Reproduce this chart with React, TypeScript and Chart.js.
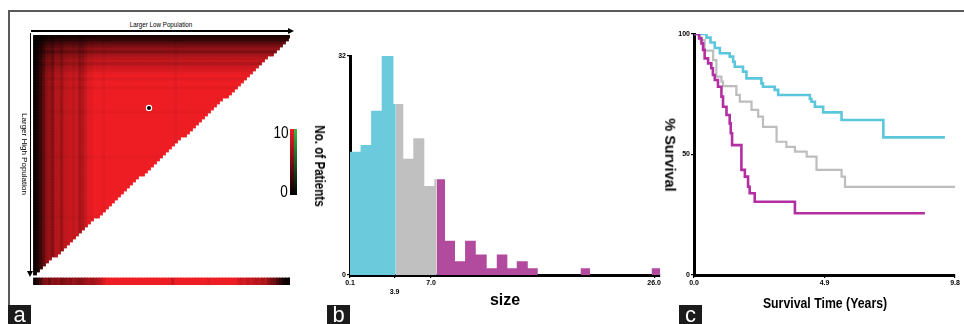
import React, { useEffect, useRef } from 'react';
import { Chart, registerables } from 'chart.js';

Chart.register(...registerables);

const FONT = "'Liberation Sans', Arial, Helvetica, sans-serif";

// ---------------- Panel a : triangular heat map ----------------
// shade (0 = black, 10 = full red) per column of the low cut-point
const heatColShade = [
  0.5, 1.2, 2.5, 4.0, 6.0, 6.5, 5.5, 7.5, 7.5, 6.5,
  8.0, 8.2, 8.4, 8.0, 8.5, 7.0, 7.5, 8.5, 9.5, 9.5,
  10, 10, 10, 9.6, 10, 10, 10, 10, 10, 10,
  10, 10, 10, 10, 10, 10, 10, 10, 10, 10,
  10, 10, 10, 10, 10, 10, 10, 9.6, 10, 10,
  10, 10, 10, 10, 10, 10, 10, 10, 10, 10,
  10, 10, 10, 10, 10, 10, 10, 10, 10, 10,
  10, 10, 10, 10, 10, 10, 10, 10, 10, 10,
  10, 10, 10, 10, 10, 10,
];
// shade per row of the high cut-point
const heatRowShade = [
  1.2, 2.2, 3.8, 5.0, 6.2, 5.2, 7.0, 7.6, 8.2, 7.4,
  8.6, 9.0, 9.6, 10, 9.4, 10, 10, 9.5, 10, 10,
  10, 10, 10, 10, 10, 9.7, 10, 10, 10, 10,
  10, 10, 10, 10, 10, 10, 10, 10, 10, 10,
  9.7, 10, 10, 10, 10, 10, 10, 10, 10, 10,
  10, 10, 10, 10, 10, 10, 10, 10, 10, 10,
  9.7, 10, 10, 10, 10, 10, 10, 10, 10, 10,
  10, 10, 10, 10, 10, 10, 10, 10, 10, 10,
];
// shade of the single strip under the map
const heatStripShade = [
  0.5, 1.5, 3.0,
  5.0, 5.5, 4.5, 6.0, 5.5, 6.0, 5.0, 5.5, 6.0, 5.5, 6.5, 6.0, 5.5, 6.0,
  6.5, 7.0, 6.5, 7.0, 7.5, 8.0, 9.0,
  10, 10, 10, 10, 10, 10, 10, 10, 10, 10, 10,
  10, 10, 10, 10, 10, 10, 10, 10, 10, 10, 10,
  8.5, 10, 10, 10, 10, 10, 10, 10, 10, 10, 10,
  10, 9.5, 10, 10, 10, 10, 10, 10, 10, 10, 10,
  9.0, 8.5, 9.0, 8.0, 8.5, 8.0, 7.5, 8.0, 7.0, 7.5,
  6.0, 5.0, 4.5, 3.0, 2.0,
  1.0, 0.5, 0.5,
];
const heatMarker = [{ x: 38, y: 24.3 }];
const heatColorbarLabels = ['10', '0'];
const heatTopTitle = 'Larger Low Population';
const heatLeftTitle = 'Larger High Population';
const HEAT_GAP = 1;
const HEAT_STRIP = 7 / 3;

// ---------------- Panel b : histogram ----------------
const histBinStart = [0.1, 1.0, 1.9, 2.8, 3.8, 4.64, 5.49, 6.43, 7.28, 8.19, 9.04, 9.9, 10.81, 11.74, 12.6, 13.5, 14.3, 15.24, 19.75, 25.8];
const histBinEnd = [1.0, 1.9, 2.8, 3.8, 4.64, 5.49, 6.43, 7.28, 8.19, 9.04, 9.9, 10.81, 11.74, 12.6, 13.5, 14.3, 15.24, 16.09, 20.54, 26.5];
const histCounts = [18, 19, 24, 32, 25, 17, 20, 13, 14, 5, 2, 5, 3, 1, 3, 1, 2, 1, 1, 1];
const histColourBreaks = [0.1, 4.0, 7.49, 26.5];
const histColours = ['#6bcadc', '#c0c0c0', '#b24a9e'];
const histXTicks = [0.1, 3.9, 7.0, 26.0];
const histXTickLabels = ['0.1', '3.9', '7.0', '26.0'];
const histYTicks = [0, 32];
const histXTitle = 'size';
const histYTitle = 'No. of Patients';

// ---------------- Panel c : survival ----------------
const survCyanTime = [0, 0.47, 0.62, 0.78, 0.97, 1.34, 1.47, 1.53, 1.84, 1.97, 2.53, 2.59, 3.03, 3.16, 4.35, 4.41, 4.54, 4.85, 5.54, 7.11, 9.42];
const survCyanPct = [100, 98.5, 96.5, 94.2, 92.0, 90.6, 88.5, 86.4, 84.4, 81.6, 79.5, 78.1, 76.8, 74.7, 73.0, 71.9, 69.8, 67.5, 64.3, 57.1, 57.1];
const survGrayTime = [0, 0.24, 0.40, 0.72, 0.84, 1.03, 1.09, 1.59, 1.72, 2.16, 2.41, 2.59, 3.10, 3.47, 3.79, 4.23, 4.60, 5.54, 5.67, 9.8];
const survGrayPct = [100, 97.5, 93.1, 89.2, 82.3, 80.2, 78.4, 74.7, 71.9, 68.5, 65.7, 61.5, 55.3, 53.2, 51.2, 49.1, 43.6, 40.8, 36.6, 36.6];
const survPurpleTime = [0, 0.19, 0.28, 0.34, 0.40, 0.53, 0.65, 0.71, 0.78, 0.90, 1.03, 1.09, 1.22, 1.34, 1.38, 1.43, 1.78, 1.91, 2.03, 2.09, 2.28, 3.79, 8.67];
const survPurplePct = [100, 98.2, 96.1, 93.4, 89.9, 87.8, 85.8, 83.0, 80.9, 78.1, 74.0, 69.8, 66.4, 62.9, 58.8, 53.9, 43.6, 40.8, 36.6, 33.9, 30.4, 25.6, 25.6];
const survColours = { cyan: '#5cc7dc', gray: '#bdbdbd', purple: '#b32fa1' };
const survXTicks = [0, 4.9, 9.8];
const survYTicks = [0, 50, 100];
const survXTitle = 'Survival Time (Years)';
const survYTitle = '% Survival';

function heatColour(v: number): string {
  const f = Math.max(0, Math.min(10, v)) / 10;
  return `rgb(${Math.round(238 * f)},${Math.round(29 * f)},${Math.round(36 * f)})`;
}

function makeHeatConfig(): any {
  const nCols = heatColShade.length;
  const nRows = heatRowShade.length;
  const total = nRows + HEAT_GAP + HEAT_STRIP;
  const clear = 'rgba(0,0,0,0)';
  const base = {
    type: 'bar', barPercentage: 1, categoryPercentage: 1, barThickness: 3, inflateAmount: 0.4,
    borderWidth: 0, xAxisID: 'x', yAxisID: 'y',
  };
  const rows = heatRowShade.map((rv, j) => {
    const len = Math.round((nCols * (nRows - j)) / nRows);
    return {
      ...base,
      data: heatColShade.map(() => 1),
      backgroundColor: heatColShade.map((cv, i) => (i < len ? heatColour((cv * rv) / 10) : clear)),
    };
  });
  const gap = { ...base, data: heatColShade.map(() => HEAT_GAP), backgroundColor: clear, inflateAmount: 0 };
  const strip = { ...base, data: heatColShade.map(() => HEAT_STRIP), backgroundColor: heatStripShade.map(heatColour) };
  const marker = {
    type: 'scatter', data: heatMarker, xAxisID: 'x2', yAxisID: 'y2',
    pointRadius: 2.6, pointBackgroundColor: '#000', pointBorderColor: '#fff', pointBorderWidth: 1.2,
    clip: false,
  };
  return {
    type: 'bar',
    data: { labels: heatColShade.map((_, i) => String(i)), datasets: [marker, ...rows, gap, strip] },
    options: {
      animation: false, responsive: false, maintainAspectRatio: false, events: [],
      layout: { padding: 0, autoPadding: false },
      plugins: { legend: { display: false }, tooltip: { enabled: false } },
      scales: {
        x: { type: 'category', stacked: true, display: false, offset: true },
        y: { type: 'linear', stacked: true, min: 0, max: total, reverse: true, display: false },
        x2: { type: 'linear', min: 0, max: nCols, display: false, position: 'bottom' },
        y2: { type: 'linear', min: 0, max: total, reverse: true, display: false, position: 'left' },
      },
    },
  };
}

function histSteps(lo: number, hi: number) {
  const pts: { x: number; y: number }[] = [];
  let prevEnd: number | null = null;
  let prevCount = 0;
  for (let i = 0; i < histCounts.length; i++) {
    const s = Math.max(histBinStart[i], lo);
    const e = Math.min(histBinEnd[i], hi);
    if (e <= s) continue;
    if (prevEnd !== null && s > prevEnd + 1e-9) pts.push({ x: prevEnd, y: 0 });
    pts.push({ x: s, y: histCounts[i] });
    prevEnd = e;
    prevCount = histCounts[i];
  }
  if (prevEnd !== null) pts.push({ x: prevEnd, y: prevCount });
  return pts;
}

const tickFont = { size: 7, weight: 'bold', family: FONT };

function axisCommon() {
  return {
    z: 1,
    grid: { display: true, drawOnChartArea: false, drawTicks: true, tickLength: 3, color: '#000', lineWidth: 1.2 },
    border: { display: true, color: '#000', width: 3 },
  };
}

function makeHistConfig(): any {
  const datasets = histColours.map((c, g) => ({
    data: histSteps(histColourBreaks[g], histColourBreaks[g + 1]),
    stepped: true,
    fill: 'origin',
    backgroundColor: c,
    borderColor: c,
    borderWidth: 0,
    pointRadius: 0,
  }));
  return {
    type: 'line',
    data: { datasets },
    options: {
      animation: false, responsive: false, maintainAspectRatio: false, events: [],
      layout: { padding: { top: 36, right: 8, left: 0, bottom: 0 } },
      plugins: { legend: { display: false }, tooltip: { enabled: false } },
      scales: {
        x: {
          ...axisCommon(),
          type: 'linear', min: histColourBreaks[0], max: histColourBreaks[histColourBreaks.length - 1],
          afterBuildTicks: (s: any) => { s.ticks = histXTicks.map((v) => ({ value: v })); },
          afterFit: (s: any) => { s.height = 49; },
          ticks: {
            autoSkip: false, maxRotation: 0, minRotation: 0, padding: 1, color: '#000', font: tickFont,
            callback: (_v: any, i: number) => (i === 1 ? ['', histXTickLabels[i]] : histXTickLabels[i]),
          },
          title: { display: true, text: histXTitle, color: '#000', font: { size: 16, weight: 'bold', family: FONT }, padding: { top: 0, bottom: 14 } },
        },
        y: {
          ...axisCommon(),
          type: 'linear', min: histYTicks[0], max: histYTicks[histYTicks.length - 1],
          afterBuildTicks: (s: any) => { s.ticks = histYTicks.map((v) => ({ value: v })); },
          afterFit: (s: any) => { s.width = 24; },
          ticks: { autoSkip: false, padding: 1, color: '#000', font: tickFont, callback: (v: any) => String(v) },
        },
      },
    },
  };
}

function makeSurvConfig(): any {
  const mk = (t: number[], p: number[], colour: string, w: number) => ({
    data: t.map((x, i) => ({ x, y: p[i] })),
    stepped: true, fill: false, borderColor: colour, borderWidth: w, pointRadius: 0,
  });
  return {
    type: 'line',
    data: {
      datasets: [
        mk(survPurpleTime, survPurplePct, survColours.purple, 2.6),
        mk(survCyanTime, survCyanPct, survColours.cyan, 2.6),
        mk(survGrayTime, survGrayPct, survColours.gray, 2.2),
      ],
    },
    options: {
      animation: false, responsive: false, maintainAspectRatio: false, events: [],
      layout: { padding: { top: 14, right: 9, left: 0, bottom: 0 } },
      plugins: { legend: { display: false }, tooltip: { enabled: false } },
      scales: {
        x: {
          ...axisCommon(),
          type: 'linear', min: survXTicks[0], max: survXTicks[survXTicks.length - 1],
          afterBuildTicks: (s: any) => { s.ticks = survXTicks.map((v) => ({ value: v })); },
          afterFit: (s: any) => { s.height = 49; },
          ticks: { autoSkip: false, maxRotation: 0, minRotation: 0, padding: 1, color: '#000', font: tickFont, callback: (v: any) => Number(v).toFixed(1) },
        },
        y: {
          ...axisCommon(),
          type: 'linear', min: survYTicks[0], max: survYTicks[survYTicks.length - 1],
          afterBuildTicks: (s: any) => { s.ticks = survYTicks.map((v) => ({ value: v })); },
          afterFit: (s: any) => { s.width = 30; },
          ticks: { autoSkip: false, padding: 1, color: '#000', font: tickFont, callback: (v: any) => String(v) },
        },
      },
    },
  };
}

function RotText(props: { cx: number; cy: number; text: string; size: number; weight?: any; sx?: number; rot?: number }) {
  const { cx, cy, text, size, weight = 'normal', sx = 1, rot = 0 } = props;
  return (
    <div style={{ position: 'absolute', left: cx, top: cy, width: 0, height: 0 }}>
      <div
        style={{
          position: 'absolute', left: 0, top: 0, whiteSpace: 'nowrap', fontSize: size, fontWeight: weight,
          fontFamily: FONT, lineHeight: 1, color: '#000',
          transform: `translate(-50%, -50%) rotate(${rot}deg) scaleX(${sx})`,
        }}
      >
        {text}
      </div>
    </div>
  );
}

function PanelTag(props: { left: number; text: string }) {
  return (
    <div
      style={{
        position: 'absolute', left: props.left, top: 305, width: 23, height: 22, background: '#1b1b1b',
        color: '#fff', fontFamily: FONT, fontSize: 22, lineHeight: '20px', textAlign: 'center',
      }}
    >
      {props.text}
    </div>
  );
}

export default function App() {
  const heatRef = useRef<HTMLCanvasElement>(null);
  const histRef = useRef<HTMLCanvasElement>(null);
  const survRef = useRef<HTMLCanvasElement>(null);

  useEffect(() => {
    const charts: Chart[] = [];
    if (heatRef.current) charts.push(new Chart(heatRef.current, makeHeatConfig()));
    if (histRef.current) charts.push(new Chart(histRef.current, makeHistConfig()));
    if (survRef.current) charts.push(new Chart(survRef.current, makeSurvConfig()));
    return () => charts.forEach((c) => c.destroy());
  }, []);

  return (
    <div style={{ position: 'absolute', left: 0, top: 0, width: 964, height: 324, background: '#fff', overflow: 'hidden', fontFamily: FONT }}>
      {/* frame */}
      <div style={{ position: 'absolute', left: 8, top: 10, width: 956, height: 1.5, background: '#5a5a5a' }} />
      <div style={{ position: 'absolute', left: 8, top: 10, width: 1.5, height: 295, background: '#5a5a5a' }} />

      {/* panel a */}
      <canvas ref={heatRef} width={258} height={250} style={{ position: 'absolute', left: 32, top: 35, width: 258, height: 250 }} />
      <div style={{ position: 'absolute', left: 31, top: 30, width: 259, height: 1.5, background: '#000' }} />
      <div style={{ position: 'absolute', left: 288, top: 27.75, width: 0, height: 0, borderTop: '3px solid transparent', borderBottom: '3px solid transparent', borderLeft: '6px solid #000' }} />
      <div style={{ position: 'absolute', left: 29.5, top: 33, width: 1.5, height: 242, background: '#000' }} />
      <div style={{ position: 'absolute', left: 27.25, top: 271, width: 0, height: 0, borderLeft: '3px solid transparent', borderRight: '3px solid transparent', borderTop: '6px solid #000' }} />
      <RotText cx={161} cy={25} text={heatTopTitle} size={8} sx={0.78} />
      <RotText cx={24} cy={154} text={heatLeftTitle} size={8} rot={90} />
      <div style={{ position: 'absolute', left: 290, top: 129, width: 3.5, height: 66, background: 'linear-gradient(to bottom, #ee1d24, #000)' }} />
      <div style={{ position: 'absolute', left: 293.5, top: 129, width: 3.5, height: 66, background: 'linear-gradient(to bottom, #3cb64a, #000)' }} />
      <RotText cx={281} cy={133} text={heatColorbarLabels[0]} size={16} sx={0.85} />
      <RotText cx={283.5} cy={192} text={heatColorbarLabels[1]} size={16} sx={0.85} />

      {/* panel b */}
      <canvas ref={histRef} width={342} height={304} style={{ position: 'absolute', left: 326, top: 20, width: 342, height: 304 }} />
      <RotText cx={320} cy={166} text={histYTitle} size={14} weight="bold" sx={0.83} rot={90} />

      {/* panel c */}
      <canvas ref={survRef} width={300} height={304} style={{ position: 'absolute', left: 664, top: 20, width: 300, height: 304 }} />
      <RotText cx={669.5} cy={155} text={survYTitle} size={14.5} weight="bold" rot={90} />
      <RotText cx={825} cy={302} text={survXTitle} size={15} weight="bold" sx={0.82} />

      <PanelTag left={8} text="a" />
      <PanelTag left={327} text="b" />
      <PanelTag left={679} text="c" />
    </div>
  );
}
